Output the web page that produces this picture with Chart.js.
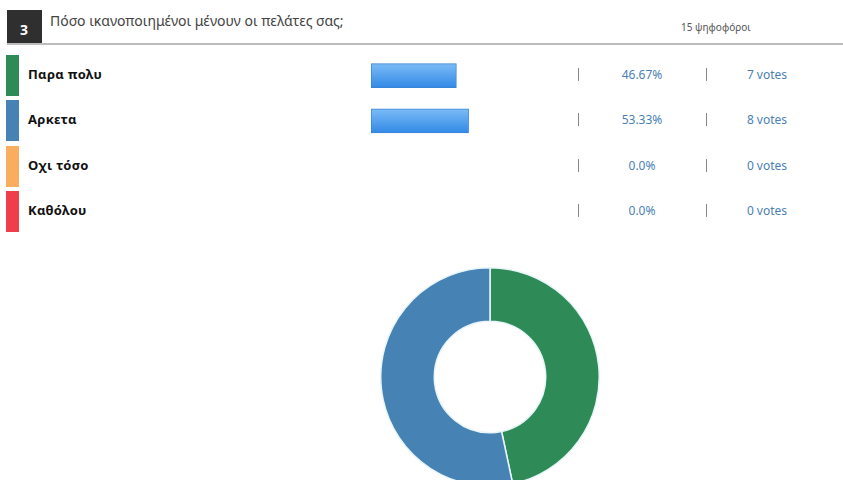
<!DOCTYPE html>
<html>
<head>
<meta charset="utf-8">
<script src="https://cdn.jsdelivr.net/npm/chart.js@4"></script>
<style>
  body { margin: 0; width: 843px; height: 480px; overflow: hidden; background: #fff; font-family: "Noto Sans", "DejaVu Sans", sans-serif; position: relative; }
  .abs { position: absolute; }
  #num { left: 7px; top: 10px; width: 35px; height: 33px; background: #2f2f2f; color: #fff; font-weight: bold; font-size: 14px; }
  #num span { position: absolute; left: 13px; top: 10px; }
  #title { left: 50px; top: 11px; font-size: 14px; color: #444; }
  #voters { left: 681px; top: 20px; font-size: 10px; color: #555; }
  #rule { left: 7px; top: 43px; width: 836px; height: 2px; background: #bdbdbd; }
  .sw { width: 13px; height: 41px; }
  .lbl { font-weight: bold; font-size: 13px; color: #111; letter-spacing: 0.3px; }
  .pct, .vts { font-size: 12px; color: #4a7fb5; width: 80px; text-align: center; }
  .sep { width: 1px; height: 13px; background: #888; }
</style>
</head>
<body>
<div id="num" class="abs"><span>3</span></div>
<div id="title" class="abs">Πόσο ικανοποιημένοι μένουν οι πελάτες σας;</div>
<div id="voters" class="abs">15 ψηφοφόροι</div>
<div id="rule" class="abs"></div>
<div id="rows"></div>
<div class="abs" style="left:371px; top:53px; width:183px; height:181px;"><canvas id="bars"></canvas></div>
<div class="abs" style="left:380px; top:267px; width:220px; height:220px;"><canvas id="donut"></canvas></div>
<script>
const categories = ['Παρα πολυ', 'Αρκετα', 'Οχι τόσο', 'Καθόλου'];
const votes = [7, 8, 0, 0];
const percents = [46.67, 53.33, 0.0, 0.0];
const colors = ['#2e8b57', '#4682b4', '#f9ae5f', '#ee3e4a'];

// legend rows drawn as plain html text
const rows = document.getElementById('rows');
const rowTop = [55, 100, 146, 191];
categories.forEach((c, i) => {
  const y = rowTop[i];
  rows.insertAdjacentHTML('beforeend',
    `<div class="abs sw" style="left:6px;top:${y}px;background:${colors[i]}"></div>` +
    `<div class="abs lbl" style="left:28px;top:${y + 10}px">${c}</div>` +
    `<div class="abs sep" style="left:578px;top:${y + 13}px"></div>` +
    `<div class="abs pct" style="left:602px;top:${y + 11}px">${percents[i] === 0 ? '0.0' : percents[i].toFixed(2)}%</div>` +
    `<div class="abs sep" style="left:706px;top:${y + 13}px"></div>` +
    `<div class="abs vts" style="left:727px;top:${y + 11}px">${votes[i]} votes</div>`);
});

new Chart(document.getElementById('bars'), {
  type: 'bar',
  data: {
    labels: categories,
    datasets: [{
      data: percents,
      barThickness: 24,
      borderWidth: 1,
      borderColor: '#3a84d6',
      borderSkipped: false,
      backgroundColor: ctx => {
        const chart = ctx.chart;
        const ys = chart.scales.y;
        const cy = ys ? ys.getPixelForValue(ctx.dataIndex) : NaN;
        if (!isFinite(cy)) return '#4a9be8';
        const g = chart.ctx.createLinearGradient(0, cy - 12, 0, cy + 12);
        g.addColorStop(0, '#7cbcf6');
        g.addColorStop(1, '#3189e6');
        return g;
      }
    }]
  },
  options: {
    indexAxis: 'y',
    responsive: true,
    maintainAspectRatio: false,
    animation: false,
    layout: { padding: 0 },
    plugins: { legend: { display: false }, tooltip: { enabled: false } },
    scales: {
      x: { display: false, min: 0, max: 100 },
      y: { display: false }
    }
  }
});

new Chart(document.getElementById('donut'), {
  type: 'doughnut',
  data: {
    labels: categories,
    datasets: [{
      data: votes,
      backgroundColor: colors,
      borderColor: '#e8f6fa',
      borderWidth: 1.5
    }]
  },
  options: {
    responsive: true,
    maintainAspectRatio: false,
    animation: false,
    cutout: '51%',
    layout: { padding: 0 },
    plugins: { legend: { display: false }, tooltip: { enabled: false } }
  }
});
</script>
</body>
</html>
